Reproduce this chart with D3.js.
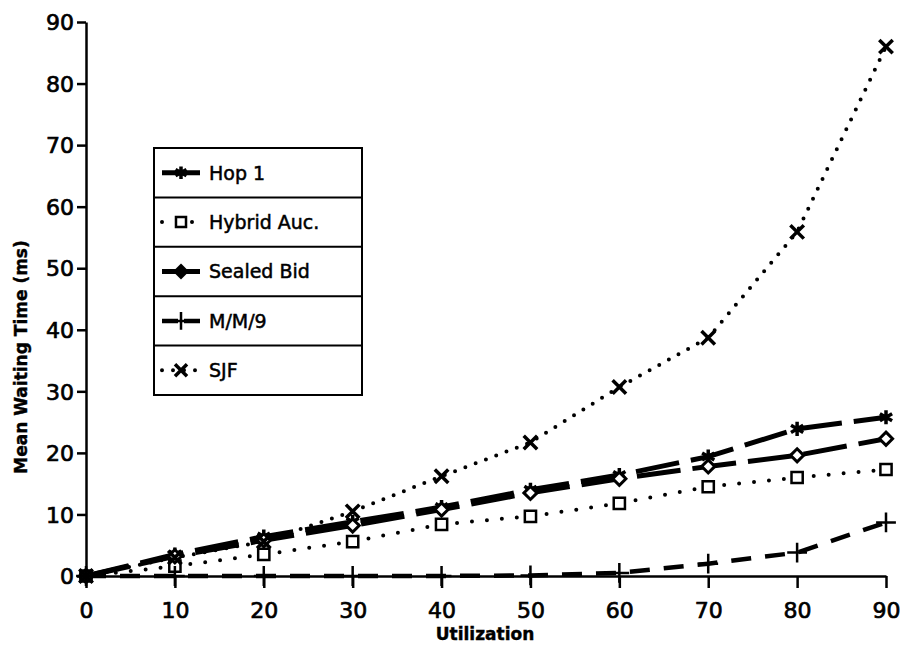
<!DOCTYPE html>
<html><head><meta charset="utf-8">
<script src="https://cdn.jsdelivr.net/npm/d3@7"></script>
<style>body{margin:0;background:#fff}svg{display:block}text{font-family:"DejaVu Sans",sans-serif;fill:#000}</style>
</head><body><div id="chart"></div>
<script>
const utilization = [0,10,20,30,40,50,60,70,80,90];
const hop1 =       [0,3.5,6.4,8.8,11.2,14.0,16.4,19.4,23.9,25.8];
const hybridAuc =  [0,1.6,3.5,5.6,8.4,9.7,11.8,14.5,16.0,17.3];
const sealedBid =  [0,3.2,5.8,8.2,10.8,13.5,15.8,17.8,19.6,22.3];
const mm9 =        [0,0,0,0,0,0.1,0.5,2.0,3.8,8.7];
const sjf =        [0,3.0,5.6,10.5,16.2,21.7,30.7,38.7,55.9,86.0];
const seriesNames = ["Hop 1","Hybrid Auc.","Sealed Bid","M/M/9","SJF"];
const xTicks = [0,10,20,30,40,50,60,70,80,90];
const yTicks = [0,10,20,30,40,50,60,70,80,90];

const W=904,H=651;
const svg=d3.select("#chart").append("svg").attr("width",W).attr("height",H);
const x=d3.scaleLinear().domain([0,90]).range([86,886]);
const y=d3.scaleLinear().domain([0,90]).range([576,22]);

const styles=[
  {data:hop1, dash:"44,12", w:5, sym:d3.symbolAsterisk, size:140, fill:"#000", sw:3.5},
  {data:hybridAuc, dash:"0,15", w:4, cap:"round", sym:d3.symbolSquare2, size:160, fill:"#fff", sw:2.5},
  {data:sealedBid, dash:"44,12", w:5, sym:d3.symbolDiamond2, size:110, fill:"#fff", sw:3},
  {data:mm9, dash:"20,14", w:4.5, sym:d3.symbolPlus, size:130, fill:"none", sw:2.5},
  {data:sjf, dash:"0,11", w:4, cap:"round", sym:d3.symbolX, size:120, fill:"none", sw:3.5}
];

// axes
const gx=svg.append("g").attr("transform",`translate(0,${y(0)})`)
  .call(d3.axisBottom(x).tickValues(xTicks).tickSize(12).tickPadding(14).tickSizeOuter(0));
const gy=svg.append("g").attr("transform",`translate(${x(0)},0)`)
  .call(d3.axisLeft(y).tickValues(yTicks).tickSize(9).tickPadding(3).tickSizeOuter(0));
[gx,gy].forEach(g=>{
  g.select(".domain").attr("stroke","#000").attr("stroke-width",2.5);
  g.selectAll(".tick line").attr("stroke","#000").attr("stroke-width",2.5);
  g.selectAll(".tick text").attr("font-size",22).attr("font-family","DejaVu Sans").attr("fill","#000")
    .attr("stroke","#000").attr("stroke-width",0.7);
});
gy.selectAll(".tick text").attr("dy","0.35em");

svg.append("text").attr("x",485).attr("y",640).attr("text-anchor","middle")
  .attr("font-size",17).attr("font-weight","bold").attr("stroke","#000").attr("stroke-width",0.4).text("Utilization");
svg.append("text").attr("transform","translate(27,357) rotate(-90)").attr("text-anchor","middle")
  .attr("font-size",17).attr("font-weight","bold").attr("stroke","#000").attr("stroke-width",0.4).text("Mean Waiting Time (ms)");

const line=d3.line().x((d,i)=>x(utilization[i])).y(d=>y(d));
const plot=svg.append("g");
styles.forEach(s=>{
  plot.append("path").attr("d",line(s.data)).attr("fill","none").attr("stroke","#000")
    .attr("stroke-width",s.w).attr("stroke-dasharray",s.dash).attr("stroke-linecap",s.cap||"butt");
});
styles.forEach(s=>{
  plot.selectAll(null).data(s.data).join("path")
    .attr("transform",(d,i)=>`translate(${x(utilization[i])},${y(d)})`)
    .attr("d",d3.symbol(s.sym,s.size)).attr("fill",s.fill).attr("stroke","#000").attr("stroke-width",s.sw);
});

// legend
const lx=154, ly=148, lw=208, rh=49.4;
const lg=svg.append("g");
lg.append("rect").attr("x",lx).attr("y",ly).attr("width",lw).attr("height",rh*5)
  .attr("fill","#fff").attr("stroke","#000").attr("stroke-width",2);
seriesNames.forEach((n,i)=>{
  const cy=ly+rh*i+rh/2;
  if(i>0) lg.append("line").attr("x1",lx).attr("x2",lx+lw).attr("y1",ly+rh*i).attr("y2",ly+rh*i)
    .attr("stroke","#000").attr("stroke-width",2);
  const s=styles[i];
  lg.append("path").attr("d",`M${lx+8},${cy}H${lx+46}`).attr("stroke","#000").attr("stroke-width",s.w)
    .attr("stroke-dasharray",s.dash==="44,12"?null:(s.dash==="20,14"?"16,6":s.dash))
    .attr("stroke-linecap",s.cap||"butt");
  lg.append("path").attr("transform",`translate(${lx+27},${cy})`).attr("d",d3.symbol(s.sym,s.size*0.8))
    .attr("fill",i===2?"#000":s.fill).attr("stroke","#000").attr("stroke-width",s.sw);
  lg.append("text").attr("x",lx+55).attr("y",cy).attr("dy","0.36em").attr("font-size",19)
    .attr("stroke","#000").attr("stroke-width",0.5).text(n);
});
</script></body></html>
